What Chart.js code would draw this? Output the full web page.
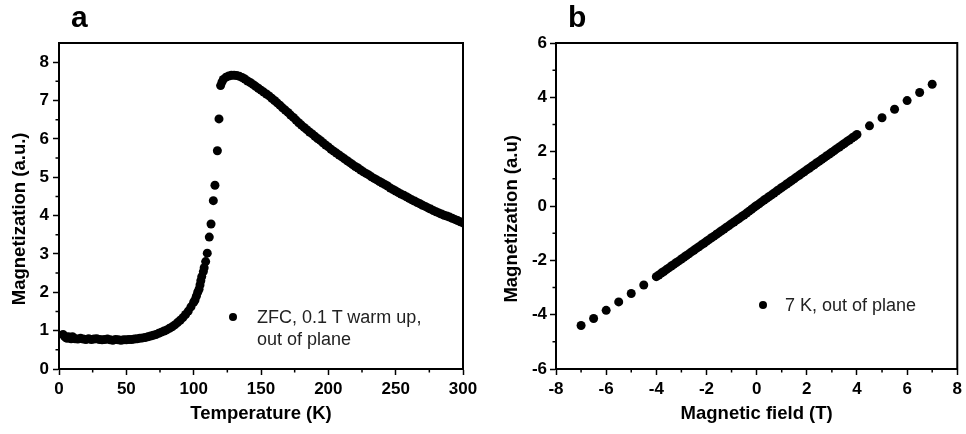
<!DOCTYPE html>
<html>
<head>
<meta charset="utf-8">
<script src="https://cdn.jsdelivr.net/npm/chart.js@4.4.1/dist/chart.umd.min.js"></script>
<style>
  body { margin: 0; background: #fff; width: 966px; height: 434px; position: relative; overflow: hidden;
         font-family: "Liberation Sans", Arial, sans-serif; }
  canvas { position: absolute; top: 0; }
  #chartA { left: 0; }
  #chartB { left: 483px; }
  .tag { position: absolute; font-weight: bold; font-size: 30px; line-height: 30px; color: #000; }
  .note { position: absolute; font-size: 18px; line-height: 22px; color: #222; white-space: nowrap; }
  .note i { position: absolute; width: 8px; height: 8px; border-radius: 50%; background: #000; }
</style>
</head>
<body>
<canvas id="chartA" width="483" height="434"></canvas>
<canvas id="chartB" width="483" height="434"></canvas>

<div class="tag" style="left:71px; top:2px;">a</div>
<div class="tag" style="left:568px; top:2px;">b</div>

<div class="note" style="left:257px; top:306px;"><i style="left:-28px; top:7px;"></i>ZFC, 0.1 T warm up,<br>out of plane</div>
<div class="note" style="left:785px; top:294px;"><i style="left:-26px; top:7px;"></i>7 K, out of plane</div>

<script>
// panel a: ZFC magnetization vs temperature
const tempK = [
  3, 4, 5, 6, 7, 8, 9, 10, 11,
  12, 14, 16, 18, 20, 22, 24, 26, 28, 30,
  32, 34, 36, 38, 40, 42, 44, 46, 48, 50,
  52, 54, 56, 58, 60, 62, 64, 66, 68, 70,
  72, 74, 76, 78, 80, 82, 84, 86, 88, 90,
  92, 94, 96, 98, 100, 101, 102, 103,
  104, 104.7, 105.3, 106, 107.2, 107.8, 108.9, 110.1, 111.6, 112.9,
  114.6, 115.8, 117.6, 118.8, 120,
  121, 122, 124, 126, 128, 130, 132, 134, 136, 138,
  140, 142, 144, 146, 148, 150, 152, 154, 156, 158,
  160, 162, 164, 166, 168, 170, 172, 174, 176, 178,
  180, 182, 184, 186, 188, 190, 192, 194, 196, 198,
  200, 202, 204, 206, 208, 210, 212, 214, 216, 218,
  220, 222, 224, 226, 228, 230, 232, 234, 236, 238,
  240, 242, 244, 246, 248, 250, 252, 254, 256, 258,
  260, 262, 264, 266, 268, 270, 272, 274, 276, 278,
  280, 282, 284, 286, 288, 290, 292, 294, 296, 298, 300
];
const magZFC = [
  0.90, 0.86, 0.82, 0.80, 0.84, 0.81, 0.79, 0.84, 0.80,
  0.79, 0.78, 0.80, 0.78, 0.77, 0.79, 0.77, 0.78, 0.79, 0.77,
  0.76, 0.77, 0.78, 0.76, 0.75, 0.77, 0.76, 0.75, 0.76, 0.76,
  0.77, 0.77, 0.78, 0.79, 0.80, 0.81, 0.82, 0.84, 0.86, 0.88,
  0.90, 0.93, 0.96, 0.99, 1.02, 1.06, 1.10, 1.15, 1.21, 1.27,
  1.34, 1.42, 1.51, 1.62, 1.74, 1.80, 1.90, 2.00,
  2.08, 2.19, 2.30, 2.41, 2.54, 2.64, 2.80, 3.02, 3.44, 3.78,
  4.39, 4.79, 5.69, 6.52, 7.39,
  7.48, 7.55, 7.61, 7.64, 7.66, 7.66, 7.65, 7.63, 7.60, 7.56,
  7.51, 7.47, 7.42, 7.37, 7.32, 7.27, 7.22, 7.17, 7.12, 7.06,
  7.00, 6.94, 6.88, 6.81, 6.75, 6.69, 6.62, 6.56, 6.49, 6.42,
  6.36, 6.30, 6.24, 6.18, 6.13, 6.07, 6.01, 5.96, 5.90, 5.84,
  5.79, 5.73, 5.68, 5.63, 5.58, 5.53, 5.48, 5.43, 5.38, 5.33,
  5.28, 5.24, 5.19, 5.14, 5.10, 5.06, 5.01, 4.97, 4.93, 4.89,
  4.85, 4.81, 4.77, 4.72, 4.68, 4.64, 4.60, 4.56, 4.53, 4.49,
  4.45, 4.41, 4.38, 4.34, 4.31, 4.27, 4.24, 4.20, 4.17, 4.13,
  4.10, 4.07, 4.04, 4.01, 3.99, 3.96, 3.93, 3.90, 3.87, 3.84, 3.81
];

// panel b: magnetization vs field at 7 K
const fieldT = [
  -7, -6.5, -6, -5.5, -5, -4.5,
  -4, -3.9, -3.8, -3.7, -3.6, -3.5, -3.4, -3.3, -3.2, -3.1,
  -3, -2.9, -2.8, -2.7, -2.6, -2.5, -2.4, -2.3, -2.2, -2.1,
  -2, -1.9, -1.8, -1.7, -1.6, -1.5, -1.4, -1.3, -1.2, -1.1,
  -1, -0.9, -0.8, -0.7, -0.6, -0.5, -0.4, -0.3, -0.2, -0.1,
  0, 0.1, 0.2, 0.3, 0.4, 0.5, 0.6, 0.7, 0.8, 0.9,
  1, 1.1, 1.2, 1.3, 1.4, 1.5, 1.6, 1.7, 1.8, 1.9,
  2, 2.1, 2.2, 2.3, 2.4, 2.5, 2.6, 2.7, 2.8, 2.9,
  3, 3.1, 3.2, 3.3, 3.4, 3.5, 3.6, 3.7, 3.8, 3.9, 4,
  4.5, 5, 5.5, 6, 6.5, 7
];
const magLoop = [
  -4.40, -4.14, -3.84, -3.53, -3.22, -2.91,
  -2.60, -2.54, -2.47, -2.41, -2.34, -2.28, -2.21, -2.15, -2.08, -2.02,
  -1.95, -1.89, -1.82, -1.76, -1.69, -1.63, -1.56, -1.50, -1.43, -1.37,
  -1.30, -1.24, -1.17, -1.11, -1.04, -0.98, -0.91, -0.85, -0.78, -0.72,
  -0.65, -0.59, -0.52, -0.46, -0.39, -0.33, -0.26, -0.19, -0.12, -0.05,
  0.02, 0.08, 0.15, 0.22, 0.28, 0.35, 0.41, 0.48, 0.55, 0.61,
  0.68, 0.74, 0.81, 0.87, 0.94, 1.00, 1.07, 1.13, 1.20, 1.26,
  1.33, 1.39, 1.46, 1.52, 1.59, 1.65, 1.72, 1.78, 1.85, 1.91,
  1.98, 2.04, 2.11, 2.17, 2.24, 2.30, 2.37, 2.43, 2.50, 2.56, 2.63,
  2.95, 3.25, 3.56, 3.88, 4.18, 4.48
];

const tempTicks = [0, 50, 100, 150, 200, 250, 300];
const tempMinor = [25, 75, 125, 175, 225, 275];
const magATicks = [0, 1, 2, 3, 4, 5, 6, 7, 8];
const magAMinor = [0.5, 1.5, 2.5, 3.5, 4.5, 5.5, 6.5, 7.5];
const fieldTicks = [-8, -6, -4, -2, 0, 2, 4, 6, 8];
const fieldMinor = [-7, -5, -3, -1, 1, 3, 5, 7];
const magBTicks = [-6, -4, -2, 0, 2, 4, 6];
const magBMinor = [-5, -3, -1, 1, 3, 5];

Chart.defaults.font.family = '"Liberation Sans", Arial, sans-serif';

// short minor ticks + closed frame round the plot area
const boxPlugin = {
  id: 'box',
  afterDraw(chart, args, opts) {
    const { ctx, chartArea: area, scales } = chart;
    ctx.save();
    ctx.strokeStyle = '#000';
    ctx.lineWidth = 1.5;
    ctx.beginPath();
    opts.xMinor.forEach(v => {
      const px = scales.x.getPixelForValue(v);
      ctx.moveTo(px, area.bottom);
      ctx.lineTo(px, area.bottom + 3.5);
    });
    opts.yMinor.forEach(v => {
      const py = scales.y.getPixelForValue(v);
      ctx.moveTo(area.left, py);
      ctx.lineTo(area.left - 3.5, py);
    });
    ctx.stroke();
    ctx.lineWidth = 2;
    ctx.strokeRect(area.left, area.top, area.right - area.left, area.bottom - area.top);
    ctx.restore();
  }
};

function axis(min, max, ticks, title, horizontal, size, labelPad, titlePad) {
  return {
    type: 'linear',
    min: min,
    max: max,
    afterBuildTicks: s => { s.ticks = ticks.map(v => ({ value: v })); },
    afterFit: s => { if (horizontal) s.height = size; else s.width = size; },
    grid: { drawOnChartArea: false, tickLength: 6, tickWidth: 1.5, tickColor: '#000' },
    border: { color: '#000', width: 2 },
    ticks: {
      color: '#000', padding: labelPad, maxRotation: 0, autoSkip: false,
      font: { size: 17, weight: 'bold' },
      callback: v => String(v)
    },
    title: {
      display: true, text: title, color: '#000', padding: titlePad,
      font: { size: 18.5, weight: 'bold' }
    }
  };
}

function makePanel(id, xs, ys, cfg) {
  return new Chart(document.getElementById(id), {
    type: 'scatter',
    data: {
      datasets: [{
        data: xs.map((x, i) => ({ x: x, y: ys[i] })),
        pointRadius: 4.5,
        pointHoverRadius: 4.5,
        pointBackgroundColor: '#000',
        pointBorderWidth: 0
      }]
    },
    options: {
      responsive: false,
      animation: false,
      events: [],
      layout: { padding: { top: 43, right: cfg.padRight, left: 0, bottom: 0 } },
      plugins: {
        legend: { display: false },
        tooltip: { enabled: false },
        box: { xMinor: cfg.xMinor, yMinor: cfg.yMinor }
      },
      scales: {
        x: axis(cfg.xRange[0], cfg.xRange[1], cfg.xTicks, cfg.xTitle, true, 65, 4, { top: 0, bottom: 9 }),
        y: axis(cfg.yRange[0], cfg.yRange[1], cfg.yTicks, cfg.yTitle, false, cfg.yWidth, cfg.yPad, { top: cfg.yTitlePad, bottom: 0 })
      }
    },
    plugins: [boxPlugin]
  });
}

makePanel('chartA', tempK, magZFC, {
  xRange: [0, 300], yRange: [0, 8.5],
  xTicks: tempTicks, yTicks: magATicks, xMinor: tempMinor, yMinor: magAMinor,
  xTitle: 'Temperature (K)', yTitle: 'Magnetization (a.u.)     ',
  yWidth: 59, yPad: 4, yTitlePad: 9, padRight: 20
});

makePanel('chartB', fieldT, magLoop, {
  xRange: [-8, 8], yRange: [-6, 6],
  xTicks: fieldTicks, yTicks: magBTicks, xMinor: fieldMinor, yMinor: magBMinor,
  xTitle: 'Magnetic field (T)', yTitle: 'Magnetization (a.u)     ',
  yWidth: 73, yPad: 3, yTitlePad: 18, padRight: 6
});
</script>
</body>
</html>
